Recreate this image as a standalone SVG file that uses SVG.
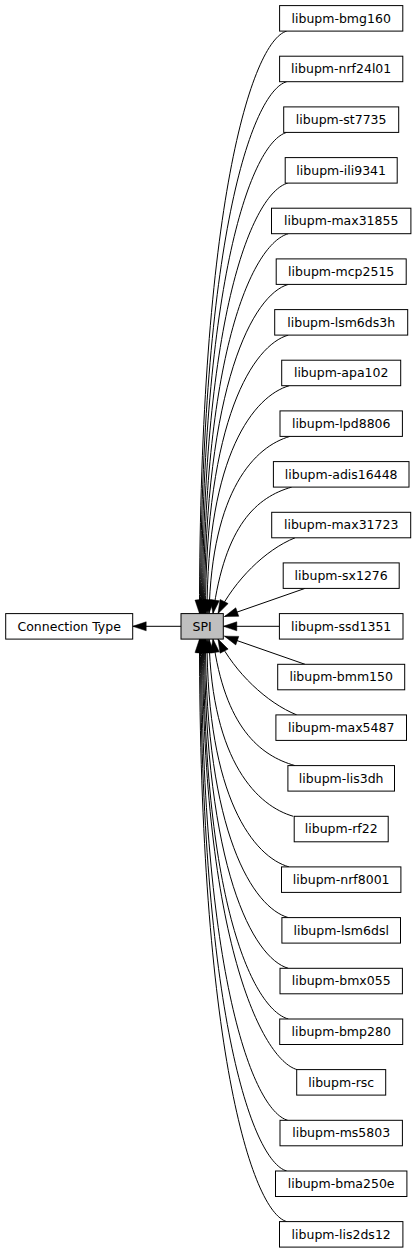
<svg xmlns="http://www.w3.org/2000/svg" width="416" height="1253" viewBox="0 0 416 1253">
<style>
.n rect{fill:#fff;stroke:#000;stroke-width:1}
.n.cur rect{fill:#bfbfbf}
.n text{font-family:"DejaVu Sans",sans-serif;font-size:12.5px;text-anchor:middle;fill:#000}
.e path{fill:none;stroke:#000;stroke-width:1;marker-end:url(#ah)}
</style>
<defs>
<marker id="ah" markerUnits="userSpaceOnUse" markerWidth="14" markerHeight="10" viewBox="0 0 14 10" refX="13.5" refY="5" orient="auto" overflow="visible">
<path d="M0,0.5 L13.5,5 L0,9.5 z" fill="#000" stroke="#000" stroke-width="0.5"/>
</marker>
</defs>
<rect width="416" height="1253" fill="#fff"/>
<g id="edges" class="e">
<path d="M181,626.3 L132.7,626.3"/>
<path d="M286.7,31.1 C251.7,41.1 199.5,205.9 199.5,613.6"/>
<path d="M286.7,81.7 C251.7,91.7 200.5,241.3 200.5,613.6"/>
<path d="M286.7,132.4 C251.7,142.4 201.5,276.8 201.5,613.6"/>
<path d="M287.7,183.1 C252.7,193.1 202.5,312.2 202.5,613.6"/>
<path d="M288.3,233.7 C253.3,243.7 203.5,347.7 203.5,613.6"/>
<path d="M288.3,284.4 C253.3,294.4 204.5,383.2 204.5,613.6"/>
<path d="M288.3,335.1 C253.3,345.1 205.5,418.6 205.5,613.6"/>
<path d="M289.3,385.7 C254.3,395.7 207,454.1 207,613.6"/>
<path d="M290,436.4 C255,446.4 212,489.6 209,613.6"/>
<path d="M291.7,487.1 C256.7,497.1 225,525 213,613.6"/>
<path d="M295,537.8 C265,550 235,580 218,613.6"/>
<path d="M305,588.4 L224.5,616.5"/>
<path d="M279.3,626.3 L223.3,626.3"/>
<path d="M305,664.3 L224.5,636.2"/>
<path d="M296.7,714.9 C266.7,702.7 235,672.7 218,639.1"/>
<path d="M295,765.6 C260,755.6 225,727.6 213,639.1"/>
<path d="M293.3,816.3 C258.3,806.3 212,763.1 209,639.1"/>
<path d="M289,866.9 C254,856.9 207,798.6 207,639.1"/>
<path d="M288.3,917.6 C253.3,907.6 205.5,834.1 205.5,639.1"/>
<path d="M288.3,968.3 C253.3,958.3 204.5,869.5 204.5,639.1"/>
<path d="M288.3,1019 C253.3,1009 203.5,905 203.5,639.1"/>
<path d="M297,1069.6 C262,1059.6 202.5,940.4 202.5,639.1"/>
<path d="M287.7,1120.3 C252.7,1110.3 201.5,975.9 201.5,639.1"/>
<path d="M286.7,1171 C251.7,1161 200.5,1011.4 200.5,639.1"/>
<path d="M286.7,1221.6 C251.7,1211.6 199.5,1046.9 199.5,639.1"/>
</g>
<g id="node-connection-type" class="n"><rect x="5.7" y="613.6" width="127" height="25.5"/><text x="69.2" y="630.7">Connection Type</text></g>
<g id="node-spi" class="n cur"><rect x="181" y="613.6" width="42.3" height="25.5"/><text x="202.2" y="630.7">SPI</text></g>
<g id="node-bmg160" class="n"><rect x="279.6" y="5.6" width="123.2" height="25.5"/><text x="341.2" y="22.7">libupm-bmg160</text></g>
<g id="node-nrf24l01" class="n"><rect x="279.6" y="56.2" width="123.2" height="25.5"/><text x="341.2" y="73.4">libupm-nrf24l01</text></g>
<g id="node-st7735" class="n"><rect x="283.7" y="106.9" width="115" height="25.5"/><text x="341.2" y="124">libupm-st7735</text></g>
<g id="node-ili9341" class="n"><rect x="285.2" y="157.6" width="112" height="25.5"/><text x="341.2" y="174.7">libupm-ili9341</text></g>
<g id="node-max31855" class="n"><rect x="271.5" y="208.2" width="139.4" height="25.5"/><text x="341.2" y="225.4">libupm-max31855</text></g>
<g id="node-mcp2515" class="n"><rect x="276.2" y="258.9" width="130" height="25.5"/><text x="341.2" y="276">libupm-mcp2515</text></g>
<g id="node-lsm6ds3h" class="n"><rect x="274.7" y="309.6" width="133" height="25.5"/><text x="341.2" y="326.7">libupm-lsm6ds3h</text></g>
<g id="node-apa102" class="n"><rect x="281.7" y="360.2" width="119" height="25.5"/><text x="341.2" y="377.4">libupm-apa102</text></g>
<g id="node-lpd8806" class="n"><rect x="280" y="410.9" width="122.4" height="25.5"/><text x="341.2" y="428">libupm-lpd8806</text></g>
<g id="node-adis16448" class="n"><rect x="273.4" y="461.6" width="135.6" height="25.5"/><text x="341.2" y="478.7">libupm-adis16448</text></g>
<g id="node-max31723" class="n"><rect x="271.7" y="512.3" width="139" height="25.5"/><text x="341.2" y="529.4">libupm-max31723</text></g>
<g id="node-sx1276" class="n"><rect x="283.2" y="562.9" width="116" height="25.5"/><text x="341.2" y="580">libupm-sx1276</text></g>
<g id="node-ssd1351" class="n"><rect x="279.4" y="613.6" width="123.6" height="25.5"/><text x="341.2" y="630.7">libupm-ssd1351</text></g>
<g id="node-bmm150" class="n"><rect x="277.7" y="664.3" width="127" height="25.5"/><text x="341.2" y="681.4">libupm-bmm150</text></g>
<g id="node-max5487" class="n"><rect x="275.9" y="714.9" width="130.6" height="25.5"/><text x="341.2" y="732.1">libupm-max5487</text></g>
<g id="node-lis3dh" class="n"><rect x="287.9" y="765.6" width="106.6" height="25.5"/><text x="341.2" y="782.7">libupm-lis3dh</text></g>
<g id="node-rf22" class="n"><rect x="294.2" y="816.3" width="94" height="25.5"/><text x="341.2" y="833.4">libupm-rf22</text></g>
<g id="node-nrf8001" class="n"><rect x="281.5" y="866.9" width="119.4" height="25.5"/><text x="341.2" y="884.1">libupm-nrf8001</text></g>
<g id="node-lsm6dsl" class="n"><rect x="281.9" y="917.6" width="118.6" height="25.5"/><text x="341.2" y="934.7">libupm-lsm6dsl</text></g>
<g id="node-bmx055" class="n"><rect x="280" y="968.3" width="122.4" height="25.5"/><text x="341.2" y="985.4">libupm-bmx055</text></g>
<g id="node-bmp280" class="n"><rect x="279.7" y="1019" width="123" height="25.5"/><text x="341.2" y="1036.1">libupm-bmp280</text></g>
<g id="node-rsc" class="n"><rect x="296.7" y="1069.6" width="89" height="25.5"/><text x="341.2" y="1086.8">libupm-rsc</text></g>
<g id="node-ms5803" class="n"><rect x="280" y="1120.3" width="122.4" height="25.5"/><text x="341.2" y="1137.4">libupm-ms5803</text></g>
<g id="node-bma250e" class="n"><rect x="275.5" y="1171" width="131.4" height="25.5"/><text x="341.2" y="1188.1">libupm-bma250e</text></g>
<g id="node-lis2ds12" class="n"><rect x="279.5" y="1221.6" width="123.4" height="25.5"/><text x="341.2" y="1238.8">libupm-lis2ds12</text></g>
</svg>
